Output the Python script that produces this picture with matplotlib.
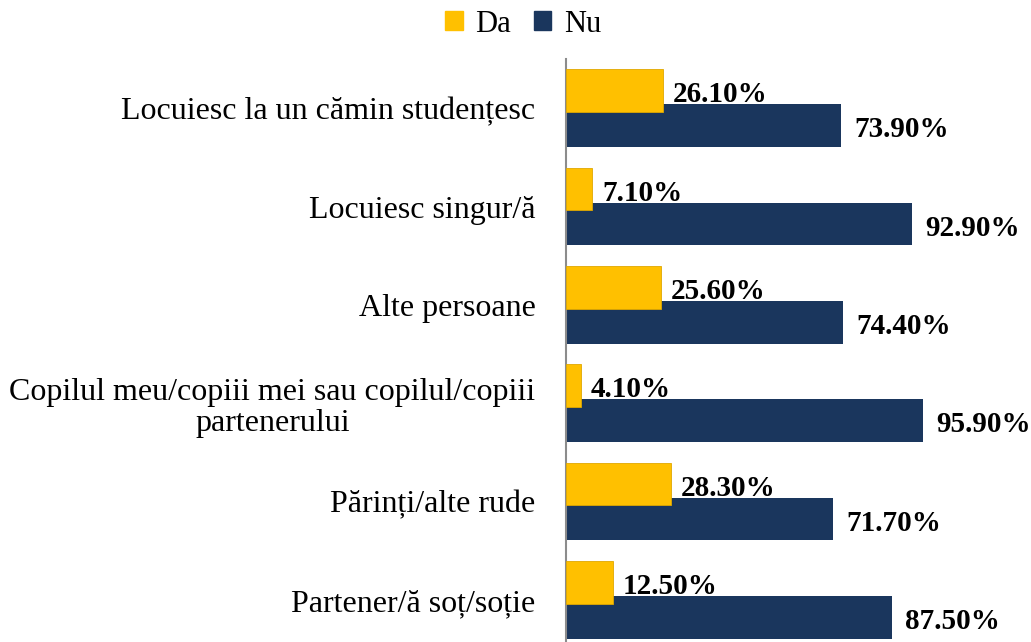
import matplotlib
matplotlib.use("Agg")
import matplotlib.pyplot as plt
from matplotlib.patches import Patch
import numpy as np

categories = [
    "Locuiesc la un cămin studențesc",
    "Locuiesc singur/ă",
    "Alte persoane",
    "Copilul meu/copiii mei sau copilul/copiii\npartenerului",
    "Părinți/alte rude",
    "Partener/ă soț/soție",
]
da_values = [26.1, 7.1, 25.6, 4.1, 28.3, 12.5]
nu_values = [73.9, 92.9, 74.4, 95.9, 71.7, 87.5]
series_names = ["Da", "Nu"]

COL_DA = "#FFC000"
COL_NU = "#1A365D"

W, H = 1031, 642
fig = plt.figure(figsize=(W / 100, H / 100), dpi=100)
plt.rcParams["font.family"] = ["Liberation Serif", "DejaVu Serif"]

ax_left, ax_right = 566, 566 + 372
ax_top, ax_bottom = 59, 649
ax = fig.add_axes([ax_left / W, 1 - ax_bottom / H, (ax_right - ax_left) / W, (ax_bottom - ax_top) / H])

y = np.arange(len(categories))
h = 0.437
off = 0.178
ax.barh(y + off, nu_values, height=h, color=COL_NU, zorder=2)
ax.barh(y - off, da_values, height=h, color=COL_DA, edgecolor="#E0A800", linewidth=0.6, zorder=3)

ax.set_xlim(0, 100)
ax.set_ylim(len(categories) - 0.5, -0.5)

for yi, v in zip(y, da_values):
    ax.annotate(f"{v:.2f}%", (v, yi - off), xytext=(7, -3), textcoords="offset points",
                ha="left", va="center", fontsize=21, fontweight="bold", clip_on=False, zorder=4)
for yi, v in zip(y, nu_values):
    ax.annotate(f"{v:.2f}%", (v, yi + off), xytext=(10, -3), textcoords="offset points",
                ha="left", va="center", fontsize=21, fontweight="bold", clip_on=False, zorder=4)

ax.set_yticks(y)
ax.set_yticklabels(categories, fontsize=23, multialignment="center")
for lbl in ax.get_yticklabels():
    lbl.set_horizontalalignment("right")
    lbl.set_linespacing(1.12)
ax.tick_params(axis="y", length=0, pad=22)
ax.set_xticks([])
for s in ["top", "right", "bottom"]:
    ax.spines[s].set_visible(False)
ax.spines["left"].set_color("#8C8C8C")
ax.spines["left"].set_linewidth(1.5)

handles = [Patch(color=COL_DA), Patch(color=COL_NU)]
fig.legend(handles, series_names, loc="center", bbox_to_anchor=(523 / W, 1 - 24 / H),
           ncol=2, frameon=False, fontsize=22, handlelength=0.58, handleheight=0.58,
           handletextpad=0.4, columnspacing=0.75)

fig.savefig("out.png", dpi=100)
